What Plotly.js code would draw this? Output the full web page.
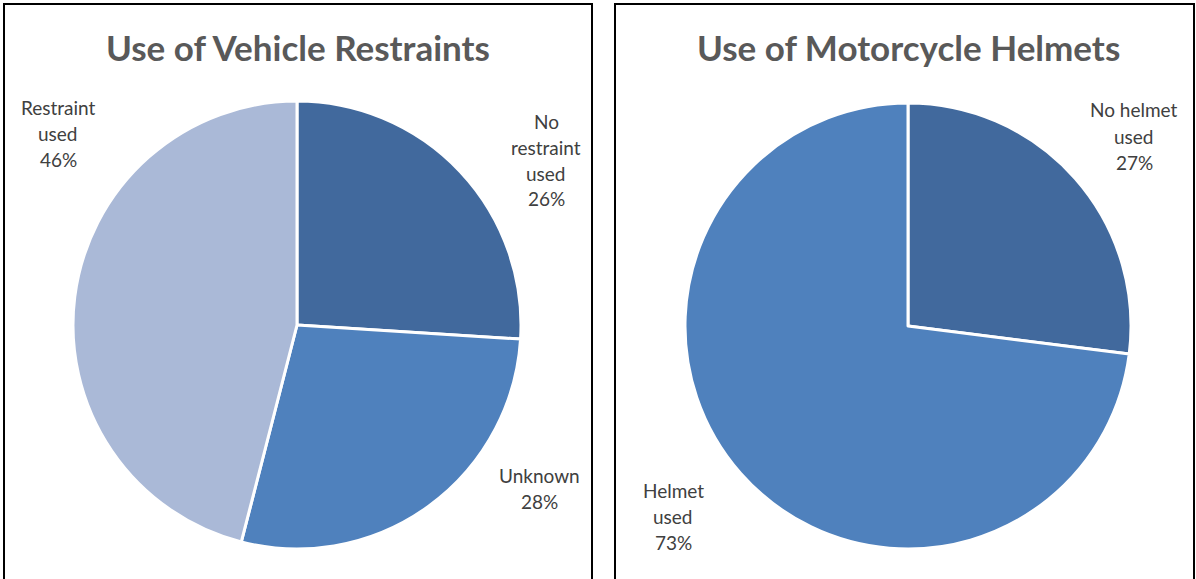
<!DOCTYPE html>
<html>
<head>
<meta charset="utf-8">
<script src="https://cdn.plot.ly/plotly-3.0.1.min.js"></script>
<style>html,body{margin:0;padding:0;background:#fff;}#chart{width:1196px;height:579px;}</style>
</head>
<body>
<div id="chart"></div>
<script>
// Data
const restraintLabels = ["No restraint used", "Unknown", "Restraint used"];
const restraintLabelLines = [["No", "restraint", "used"], ["Unknown"], ["Restraint", "used"]];
const restraintValues = [26, 28, 46];
const restraintColors = ["#41699D", "#4F81BD", "#AAB9D7"];

const helmetLabels = ["No helmet used", "Helmet used"];
const helmetLabelLines = [["No helmet", "used"], ["Helmet", "used"]];
const helmetValues = [27, 73];
const helmetColors = ["#41699D", "#4F81BD"];

const titles = ["Use of Vehicle Restraints", "Use of Motorcycle Helmets"];

const W = 1196, H = 579;
const px = v => v / W, py = v => 1 - v / H;

const traces = [
  {
    type: "pie", labels: restraintLabels, values: restraintValues, sort: false,
    direction: "clockwise", rotation: 0, textinfo: "none", hoverinfo: "label+percent",
    marker: {colors: restraintColors, line: {color: "#ffffff", width: 3}},
    domain: {x: [px(73), px(521)], y: [py(549), py(101)]}, showlegend: false
  },
  {
    type: "pie", labels: helmetLabels, values: helmetValues, sort: false,
    direction: "clockwise", rotation: 0, textinfo: "none", hoverinfo: "label+percent",
    marker: {colors: helmetColors, line: {color: "#ffffff", width: 3}},
    domain: {x: [px(685), px(1131)], y: [py(549), py(103)]}, showlegend: false
  }
];

function pct(vals, i) {
  const t = vals.reduce((a, b) => a + b, 0);
  return Math.round(vals[i] / t * 100) + "%";
}

const labelFont = {family: "Lato, 'Open Sans', sans-serif", size: 19, color: "#404040"};
const lineGap = 26;
const restraintPos = [[546, 160], [539, 488], [58, 133]];
const helmetPos = [[1134, 136], [673, 516]];

const annotations = [];
function addLabel(lines, pos) {
  const n = lines.length;
  lines.forEach((ln, j) => {
    annotations.push({xref: "paper", yref: "paper", x: px(pos[0]),
      y: py(pos[1] + (j - (n - 1) / 2) * lineGap),
      text: ln, showarrow: false, font: labelFont,
      xanchor: "center", yanchor: "middle", align: "center"});
  });
}
restraintLabelLines.forEach((lines, i) => addLabel(lines.concat([pct(restraintValues, i)]), restraintPos[i]));
helmetLabelLines.forEach((lines, i) => addLabel(lines.concat([pct(helmetValues, i)]), helmetPos[i]));

const titleX = [298, 908];
titles.forEach((t, i) => {
  annotations.push({xref: "paper", yref: "paper", x: px(titleX[i]), y: py(47),
    text: "<b>" + t + "</b>", showarrow: false,
    font: {family: "Lato, 'Open Sans', sans-serif", size: 35, color: "#595959"},
    xanchor: "center", yanchor: "middle"});
});

const shapes = [
  {type: "rect", xref: "paper", yref: "paper", x0: px(4), x1: px(592), y0: py(600), y1: py(4),
   line: {color: "#000000", width: 2}},
  {type: "rect", xref: "paper", yref: "paper", x0: px(615), x1: px(1194), y0: py(600), y1: py(4),
   line: {color: "#000000", width: 2}}
];

Plotly.newPlot("chart", traces, {
  width: W, height: H, margin: {l: 0, r: 0, t: 0, b: 0},
  paper_bgcolor: "#ffffff", annotations: annotations, shapes: shapes
}, {displayModeBar: false, staticPlot: true});
</script>
</body>
</html>
